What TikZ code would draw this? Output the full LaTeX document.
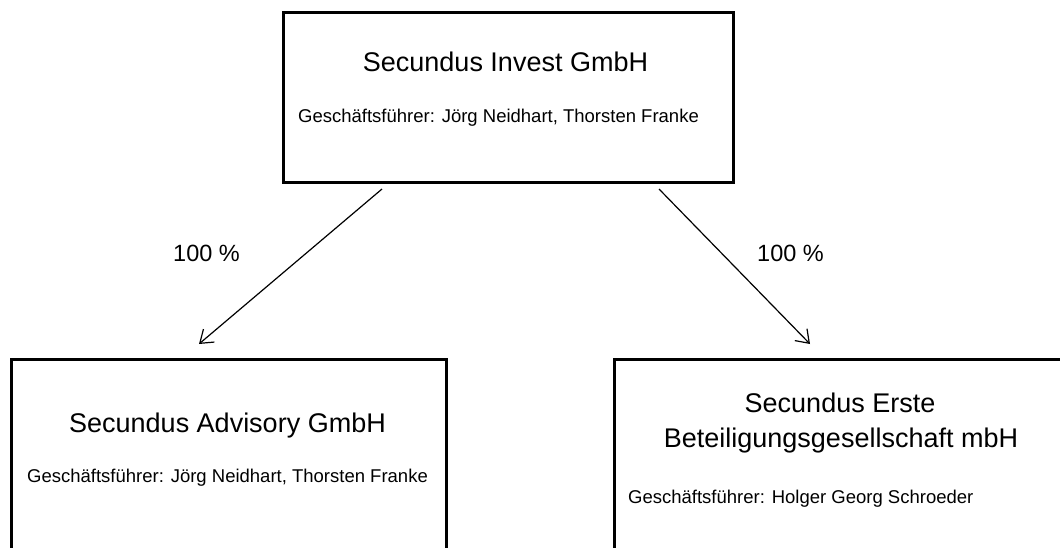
\documentclass[tikz,border=0pt]{standalone}
\usepackage{fontspec}
\setmainfont{Liberation Sans}
\usetikzlibrary{arrows.meta}
\tikzset{
  box/.style={draw=black, line width=3pt, rectangle, inner sep=0pt, anchor=north west},
  title/.style={font=\fontsize{27}{32}\selectfont, inner sep=0pt, anchor=base},
  sub/.style={font=\fontsize{18.5}{22}\selectfont, inner sep=0pt, anchor=base west},
  pct/.style={font=\fontsize{23.5}{28}\selectfont, inner sep=0pt, anchor=base west},
  link/.style={line width=1.2pt, -{Straight Barb[length=12pt,width=17pt,line width=1.2pt]}}
}
\begin{document}
\begin{tikzpicture}[x=1pt,y=-1pt]
\useasboundingbox (0,0) rectangle (1060,548);
\clip (0,0) rectangle (1060,548);
\fill[white] (0,0) rectangle (1060,548);
% boxes
\node[box, minimum width=450pt, minimum height=170pt] (top) at (282,11) {};
\node[box, minimum width=435pt, minimum height=260pt] (left) at (10,358) {};
\node[box, minimum width=500pt, minimum height=260pt] (right) at (613,358) {};
% texts
\node[title] (t1) at (505.5,72) {Secundus Invest GmbH};
\node[sub] (s1) at (298,123) {Geschäftsführer: Jörg Neidhart, Thorsten Franke};
\node[title] (t2) at (227.5,432) {Secundus Advisory GmbH};
\node[sub] (s2) at (27,482) {Geschäftsführer: Jörg Neidhart, Thorsten Franke};
\node[title] (t3a) at (840,412) {Secundus Erste};
\node[title] (t3b) at (841,447) {Beteiligungsgesellschaft mbH};
\node[sub] (s3) at (628,503) {Geschäftsführer: Holger Georg Schroeder};
% connectors
\coordinate (a1s) at (382,189);
\coordinate (a1e) at (199,344);
\coordinate (a2s) at (659,189);
\coordinate (a2e) at (810,344);
\draw[link] (a1s) -- (a1e);
\draw[link] (a2s) -- (a2e);
\node[pct] (p1) at (173,261) {100 \%};
\node[pct] (p2) at (757,261) {100 \%};
\end{tikzpicture}
\end{document}
